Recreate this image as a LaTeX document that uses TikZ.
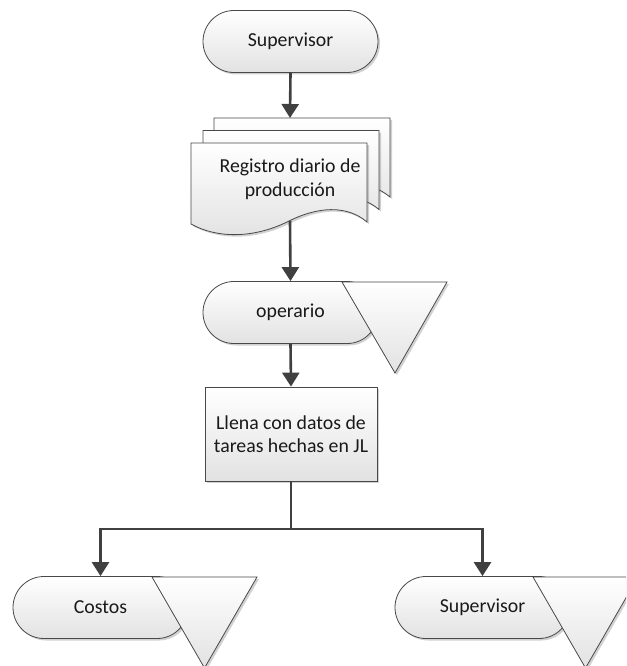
\documentclass[tikz,border=0pt]{standalone}
\usepackage{fontspec}
\setmainfont{Carlito}
\usetikzlibrary{arrows.meta,shapes.misc,shadows}

\definecolor{linecol}{RGB}{64,64,64}
\definecolor{edgecol}{RGB}{72,72,72}
\definecolor{txtcol}{RGB}{25,25,25}
\definecolor{shadecol}{RGB}{226,226,226}

\tikzset{
  softshadow/.style={drop shadow={shadow xshift=2pt,shadow yshift=-2pt,opacity=.3,fill=black!60}},
  shapebase/.style={draw=edgecol,line width=0.8pt,top color=white,bottom color=shadecol,softshadow},
  label/.style={font=\fontsize{19.8}{23.5}\selectfont,text=txtcol,align=center},
  term/.style={shapebase,label,rounded rectangle,minimum width=175pt,minimum height=62pt,inner sep=0pt},
  procbox/.style={shapebase,label,rectangle,minimum width=172pt,minimum height=94pt,inner sep=0pt},
  tri/.style={shapebase},
  page/.style={shapebase},
  arr/.style={draw=linecol,line width=2.6pt,-{Triangle[width=17pt,length=14pt]}},
  conn/.style={draw=linecol,line width=2.6pt}
}

\begin{document}
\begin{tikzpicture}[x=1pt,y=-1pt]
\useasboundingbox (0,0) rectangle (626,666);
\clip (0,0) rectangle (626,666);

% start terminator
\node[term] (sup) at (290.5,41.5) {Supervisor};

% stacked document pages, back to front
\foreach \dx/\dy in {23/-25,12/-12.5,0/0}{
  \begin{scope}[shift={(\dx,\dy)}]
    \path[page] (191,143) -- (367,143) -- (367,222)
      .. controls (347,205) and (318,206) .. (287,222)
      .. controls (252,239) and (216,238) .. (191,224) -- cycle;
  \end{scope}
}
\node[label] (doc) at (290,179) {Registro diario de\\producción};
\coordinate (docTop) at (290,118);
\coordinate (docBot) at (290,221);

% operario terminator with its off-page triangle
\node[term] (op) at (290.5,312.5) {operario};
\path[tri] (342,282) -- (447,282) -- (395,373) -- cycle;

% process box
\node[procbox] (task) at (291,434) {Llena con datos de\\tareas hechas en JL};

% end terminators with triangles
\node[term] (cost) at (100.5,607.5) {Costos};
\path[tri] (152,577) -- (257,577) -- (204.5,668) -- cycle;
\node[term] (sup2) at (482.5,607.5) {Supervisor};
\path[tri] (533,577) -- (638,577) -- (585.5,668) -- cycle;

% connectors
\draw[arr] (sup.south) -- (docTop);
\draw[arr] (docBot) -- (op.north);
\draw[arr] (op.south) -- (task.north);
\coordinate (split) at (291,529);
\draw[conn] (task.south) -- (split);
\draw[arr] (split) -| (cost.north);
\draw[arr] (split) -| (sup2.north);
\end{tikzpicture}
\end{document}
